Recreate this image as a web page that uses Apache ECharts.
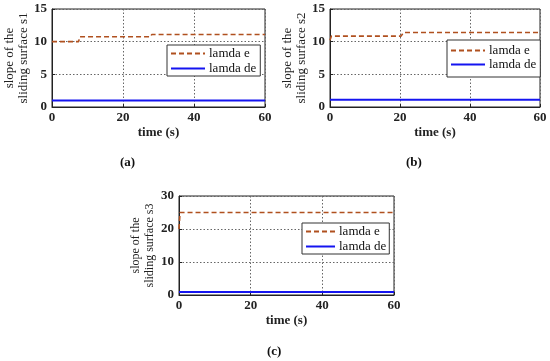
<!DOCTYPE html>
<html><head><meta charset="utf-8">
<script src="https://cdn.jsdelivr.net/npm/echarts@6/dist/echarts.min.js"></script>
<style>html,body{margin:0;padding:0;background:#fff}#c{width:550px;height:361px}</style>
</head><body><div id="c"></div>
<script>
// Panel (a)
const aTimeE = [0, 7.5, 7.8, 27.8, 28.1, 60];
const aLamdaE = [10, 10, 10.75, 10.75, 11.1, 11.1];
const aTimeDe = [0, 7.3, 7.6, 7.9, 60];
const aLamdaDe = [1, 1, 1.15, 1, 1];
// Panel (b)
const bTimeE = [0, 0.4, 20.3, 21, 60];
const bLamdaE = [10.2, 10.85, 10.85, 11.4, 11.4];
const bTimeDe = [0, 60];
const bLamdaDe = [1.1, 1.1];
// Panel (c)
const cTimeE = [0, 0.3, 60];
const cLamdaE = [20, 25, 25];
const cTimeDe = [0, 60];
const cLamdaDe = [0.9, 0.9];

const seriesNames = ['lamda e', 'lamda de'];
const yNames = ['slope of the\nsliding surface s1', 'slope of the\nsliding surface s2', 'slope of the\nsliding surface s3'];
const xName = 'time (s)';
const captions = ['a', 'b', 'c'];

const FONT = 'Liberation Serif';
const colE = '#b0501f', colDe = '#1414f0';
const zip = (xs, ys) => xs.map((x, i) => [x, ys[i]]);

const grids = [
  {left: 52, top: 9, width: 213, height: 98},
  {left: 330, top: 9, width: 210, height: 98},
  {left: 179, top: 196, width: 215, height: 99}
];
const yMax = [15, 15, 30], yInt = [5, 5, 10];
const yNameSize = [13, 13, 12], yNameGap = [19, 19, 22];
const legendCfg = [
  {left: 167, top: 45, padding: [2, 4, 1, 3], itemGap: 2, itemWidth: 34},
  {left: 447, top: 40, padding: [4, 4, 6, 3], itemGap: 1, itemWidth: 34},
  {left: 302, top: 223, padding: [2, 3, 1, 3], itemGap: 2, itemWidth: 29}
];
const captionPos = [{left: 120, top: 156}, {left: 406, top: 156}, {left: 267, top: 345}];

const xAxes = grids.map((g, i) => ({
  type: 'value', gridIndex: i, min: 0, max: 60, interval: 20,
  name: xName, nameLocation: 'middle', nameGap: 19,
  nameTextStyle: {fontFamily: FONT, fontSize: 13, fontWeight: 'bold', color: '#222'},
  axisLine: {show: true, lineStyle: {color: '#222'}},
  axisTick: {show: true, inside: true, length: 3, lineStyle: {color: '#222'}},
  axisLabel: {fontFamily: FONT, fontSize: 13, fontWeight: 'bold', color: '#222', margin: 4},
  splitLine: {show: true, lineStyle: {type: [1.5, 2], color: '#666', width: 1}}
}));
const yAxes = grids.map((g, i) => ({
  type: 'value', gridIndex: i, min: 0, max: yMax[i], interval: yInt[i],
  name: yNames[i], nameLocation: 'middle', nameGap: yNameGap[i], nameRotate: 90,
  nameTextStyle: {fontFamily: FONT, fontSize: yNameSize[i], color: '#222', lineHeight: 14},
  axisLine: {show: true, lineStyle: {color: '#222'}},
  axisTick: {show: true, inside: true, length: 3, lineStyle: {color: '#222'}},
  axisLabel: {fontFamily: FONT, fontSize: 13, fontWeight: 'bold', color: '#222', margin: 5},
  splitLine: {show: true, lineStyle: {type: [1.5, 2], color: '#666', width: 1}}
}));

const dataE = [zip(aTimeE, aLamdaE), zip(bTimeE, bLamdaE), zip(cTimeE, cLamdaE)];
const dataDe = [zip(aTimeDe, aLamdaDe), zip(bTimeDe, bLamdaDe), zip(cTimeDe, cLamdaDe)];

const series = [];
grids.forEach((g, i) => {
  series.push({type: 'line', name: seriesNames[0], xAxisIndex: i, yAxisIndex: i, data: dataE[i],
    symbol: 'none', lineStyle: {color: colE, width: 1.6, type: [5, 3]}, itemStyle: {color: colE}, animation: false});
  series.push({type: 'line', name: seriesNames[1], xAxisIndex: i, yAxisIndex: i, data: dataDe[i],
    symbol: 'none', lineStyle: {color: colDe, width: 2}, itemStyle: {color: colDe}, animation: false});
});

const legends = grids.map((g, i) => ({
  left: legendCfg[i].left, top: legendCfg[i].top,
  orient: 'vertical', data: seriesNames,
  backgroundColor: '#fff', borderColor: '#333', borderWidth: 1, borderRadius: 0,
  padding: legendCfg[i].padding, itemGap: legendCfg[i].itemGap, itemWidth: legendCfg[i].itemWidth, itemHeight: 15,
  itemStyle: {opacity: 0},
  textStyle: {fontFamily: FONT, fontSize: 13, color: '#111', padding: [0, 0, 0, -1]},
  selectedMode: false
}));

const titles = captions.map((c, i) => ({
  left: captionPos[i].left, top: captionPos[i].top, padding: 0,
  text: '{p|(}{b|' + c + '}{p|)}',
  textStyle: {rich: {
    p: {fontFamily: FONT, fontSize: 13, color: '#111'},
    b: {fontFamily: FONT, fontSize: 13, fontWeight: 'bold', color: '#111'}
  }}
}));

const chart = echarts.init(document.getElementById('c'), null, {renderer: 'canvas'});
chart.setOption({
  backgroundColor: '#fff',
  animation: false,
  title: titles,
  grid: grids.map(g => Object.assign({show: true, borderColor: '#222', borderWidth: 1, backgroundColor: 'transparent'}, g)),
  xAxis: xAxes, yAxis: yAxes, legend: legends, series: series
});
</script></body></html>
